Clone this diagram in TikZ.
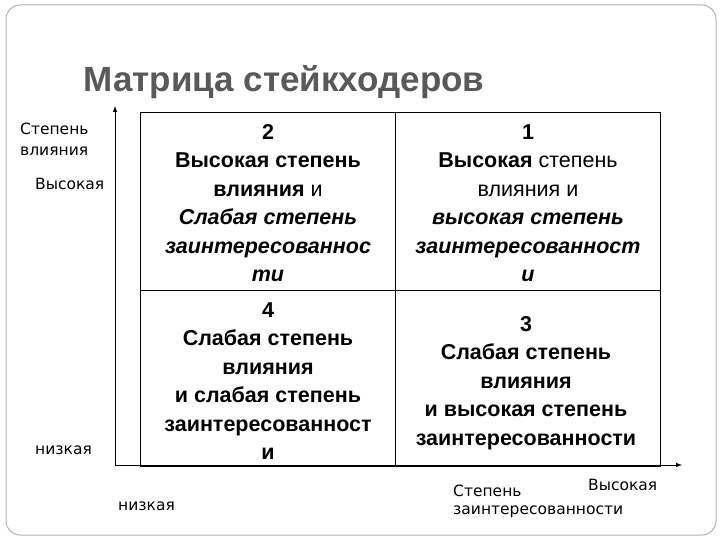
\documentclass[tikz,border=0pt]{standalone}
\usepackage{fontspec}
\setmainfont{Liberation Sans}
\newfontfamily\labfont{DejaVu Sans}
\begin{document}
\begin{tikzpicture}[x=1pt,y=-1pt,
  cell/.style={align=center,font=\fontsize{21.5}{28.5}\selectfont\bfseries,inner sep=0},
  lab/.style={font=\labfont\fontsize{15.5}{21}\selectfont,inner sep=0}]
\useasboundingbox (0,0) rectangle (720,540);
\draw[gray!60,line width=1pt,rounded corners=14pt] (6,5) rectangle (716,535);
\node[font=\fontsize{35}{40}\selectfont\bfseries,text=black!65,anchor=west] (title) at (80,82) {Матрица стейкходеров};
\coordinate (o) at (115,465);
\coordinate (yt) at (115,106);
\coordinate (xt) at (682,465);
\draw[-latex,line width=1pt] (o) -- (yt);
\draw[-latex,line width=1pt] (o) -- (xt);
\draw[line width=0.8pt] (140,112) rectangle (660,466);
\draw[line width=0.8pt] (395,112) -- (395,466);
\draw[line width=0.8pt] (140,290) -- (660,290);
\node[cell] (c2) at (268,203) {2\\Высокая степень\\влияния \textmd{и}\\\textit{Слабая степень}\\\textit{заинтересованнос}\\\textit{ти}};
\node[cell] (c1) at (528,203) {1\\Высокая \textmd{степень}\\\textmd{влияния и}\\\textit{высокая степень}\\\textit{заинтересованност}\\\textit{и}};
\node[cell] (c4) at (268,381) {4\\Слабая степень\\влияния\\и слабая степень\\заинтересованност\\и};
\node[cell] (c3) at (526,383) {3\\Слабая степень\\влияния\\и высокая степень\\заинтересованности};
\node[lab,anchor=west,align=left] (sv) at (20,139) {Степень\\влияния};
\node[lab,anchor=west] (hi) at (35,184) {Высокая};
\node[lab,anchor=west] (lo) at (35,450) {низкая};
\node[lab,anchor=west] (lox) at (118,506) {низкая};
\node[lab,anchor=west] (sx) at (453,491) {Степень};
\node[lab,anchor=west] (zx) at (453,512) {заинтересованности};
\node[lab,anchor=west] (hx) at (588,485) {Высокая};
\end{tikzpicture}
\end{document}
